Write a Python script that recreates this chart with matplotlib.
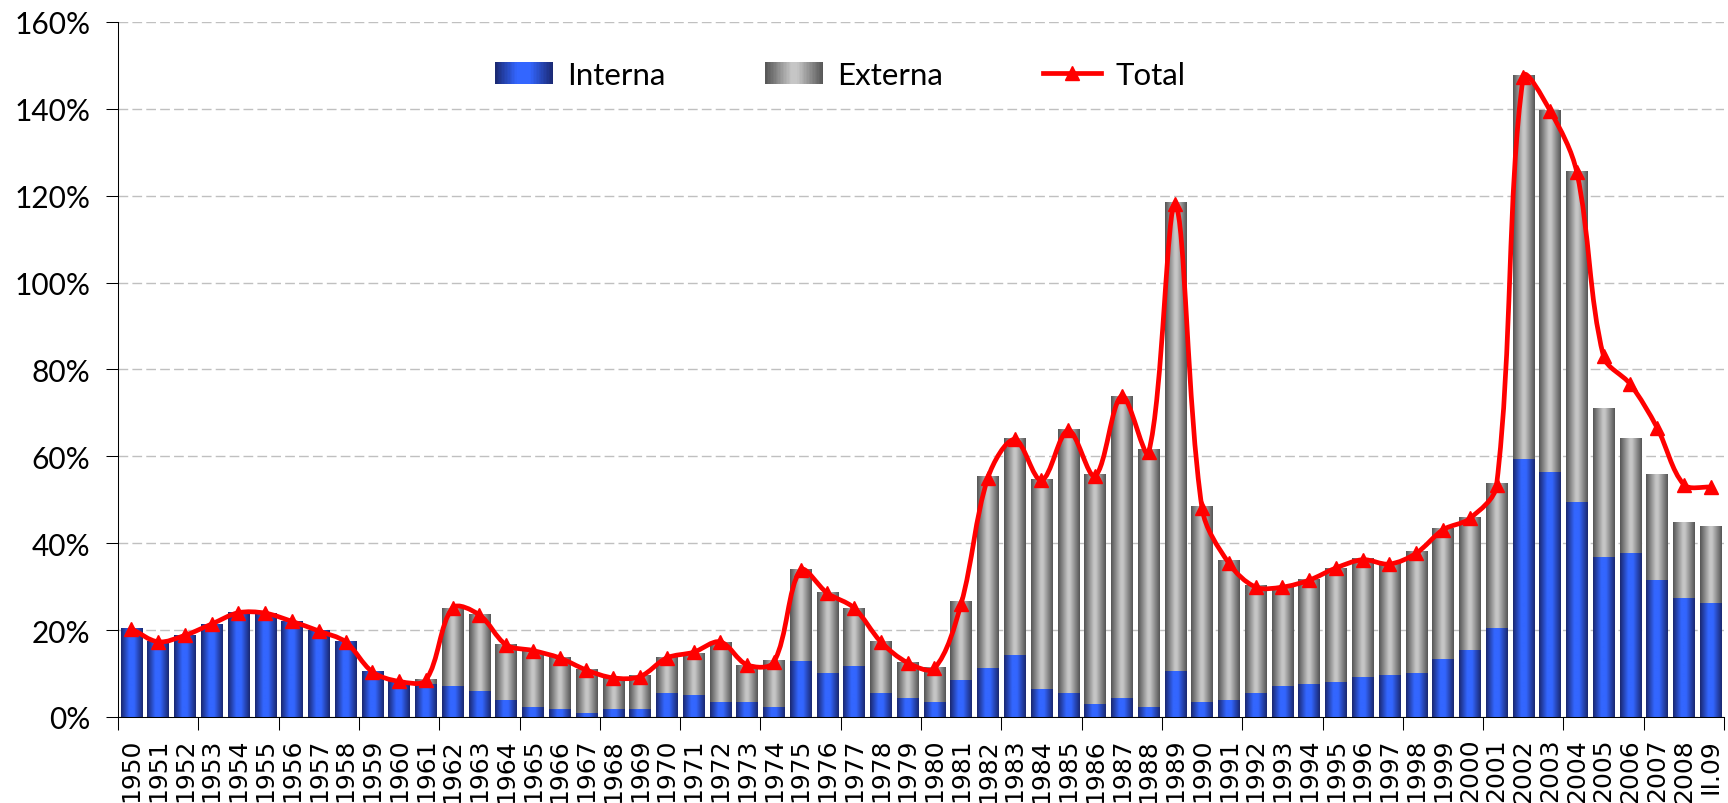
import numpy as np
import matplotlib
matplotlib.use("Agg")
import matplotlib.pyplot as plt
from matplotlib.colors import LinearSegmentedColormap
from matplotlib.path import Path
from matplotlib.patches import PathPatch, Rectangle
from matplotlib.lines import Line2D
from matplotlib.legend_handler import HandlerBase

labels = [str(y) for y in range(1950, 2009)] + ["II.09"]

interna = [20.3, 17.3, 18.8, 21.4, 24.0, 23.8, 22.0, 19.8, 17.3, 10.4,
           8.2, 7.7, 7.2, 6.0, 3.9, 2.3, 1.8, 0.9, 1.8, 1.8,
           5.5, 5.1, 3.5, 3.5, 2.3, 12.9, 10.1, 11.8, 5.5, 4.4,
           3.5, 8.5, 11.3, 14.3, 6.5, 5.5, 3.0, 4.4, 2.3, 10.6,
           3.5, 3.9, 5.5, 7.2, 7.6, 8.1, 9.2, 9.7, 10.1, 13.4,
           15.5, 20.5, 59.3, 56.5, 49.4, 36.9, 37.8, 31.6, 27.4, 26.3]

externa = [0, 0, 0, 0, 0, 0, 0, 0, 0, 0,
           0, 1.1, 17.9, 17.5, 12.7, 12.8, 11.8, 9.9, 7.1, 7.7,
           8.1, 9.6, 13.8, 8.5, 10.8, 21.0, 18.5, 13.3, 11.8, 8.1,
           8.0, 18.0, 44.0, 49.8, 48.2, 60.7, 52.8, 69.5, 59.3, 107.8,
           44.9, 32.1, 24.7, 22.8, 24.0, 26.2, 27.2, 25.7, 28.0, 30.0,
           30.4, 33.2, 88.3, 83.3, 76.2, 34.1, 26.3, 24.2, 17.3, 17.5]

total = [20.3, 17.3, 18.8, 21.4, 24.0, 23.9, 22.0, 19.8, 17.3, 10.4,
         8.2, 8.5, 25.1, 23.5, 16.6, 15.3, 13.6, 10.8, 9.0, 9.3,
         13.6, 14.9, 17.3, 12.0, 12.6, 33.8, 28.5, 25.1, 17.3, 12.5,
         11.2, 26.1, 55.1, 63.9, 54.5, 66.0, 55.5, 73.9, 60.9, 118.0,
         48.0, 35.4, 29.9, 29.9, 31.5, 34.3, 36.2, 35.2, 37.7, 43.1,
         45.7, 53.3, 147.4, 139.6, 125.4, 83.0, 76.6, 66.6, 53.5, 52.9]

blue_cm = LinearSegmentedColormap.from_list(
    "bl", [(0, "#1a2870"), (0.38, "#3366ff"), (0.6, "#3366ff"), (1, "#1a2870")])
gray_cm = LinearSegmentedColormap.from_list(
    "gr", [(0, "#555555"), (0.45, "#c6c6c6"), (0.55, "#c6c6c6"), (1, "#555555")])


class GradHandler(HandlerBase):
    def __init__(self, cmap):
        super().__init__()
        self.cmap = cmap

    def create_artists(self, legend, orig_handle, xdescent, ydescent,
                       width, height, fontsize, trans):
        n = 40
        w = width / n
        arts = []
        for i in range(n):
            r = Rectangle((-xdescent + i * w, -ydescent), w * 1.05, height,
                          facecolor=self.cmap((i + 0.5) / n), lw=0,
                          transform=trans)
            arts.append(r)
        return arts


fig = plt.figure(figsize=(17.28, 8.04), dpi=100)
ax = fig.add_axes([0.0683, 0.107, 0.9294, 0.8644])

x = np.arange(len(labels))
b1 = ax.bar(x, interna, width=0.8, color="none", lw=0)
b2 = ax.bar(x, externa, bottom=interna, width=0.8, color="none", lw=0)

grad = np.linspace(0, 1, 64).reshape(1, -1)
for bars, cm in ((b1, blue_cm), (b2, gray_cm)):
    for r in bars:
        if r.get_height() <= 0:
            continue
        ax.imshow(grad, cmap=cm, aspect="auto", interpolation="bilinear",
                  extent=(r.get_x(), r.get_x() + r.get_width(),
                          r.get_y(), r.get_y() + r.get_height()), zorder=2)

# smoothed line, excel style bezier (tangents weighted by segment length on screen)
pts = np.column_stack([x, total]).astype(float)
sy = 4.34 / 26.77  # px per % / px per category
n = len(pts)
outc, inc = [], []
for i in range(n):
    pa = pts[max(i - 1, 0)]
    pb = pts[min(i + 1, n - 1)]
    d = pb - pa
    lp = np.hypot(pts[i][0] - pa[0], (pts[i][1] - pa[1]) * sy)
    ln = np.hypot(pb[0] - pts[i][0], (pb[1] - pts[i][1]) * sy)
    s = lp + ln
    outc.append(pts[i] + d / 3 * ln / s)
    inc.append(pts[i] - d / 3 * lp / s)
verts = [pts[0]]
codes = [Path.MOVETO]
for i in range(n - 1):
    verts += [outc[i], inc[i + 1], pts[i + 1]]
    codes += [Path.CURVE4] * 3
ax.add_patch(PathPatch(Path(verts, codes), fill=False, edgecolor="red",
                       lw=3.4, capstyle="round", joinstyle="round", zorder=4))
ax.plot(x, total, ls="none", marker="^", color="red", ms=9.5, zorder=5)

ax.set_xlim(-0.5, 59.5)
ax.set_ylim(0, 160)

ax.set_yticks(range(0, 161, 20))
ax.set_yticklabels([f"{v}%" for v in range(0, 161, 20)], family="Lato", fontsize=21.5)
ax.tick_params(axis="y", length=9, width=0.75, pad=11)

ax.set_xticks(x)
ax.set_xticklabels(labels, rotation=90, family="DejaVu Sans", fontsize=18)
ax.tick_params(axis="x", which="major", length=0, pad=15)
ax.set_xticks(np.arange(-0.5, 60, 3), minor=True)
ax.tick_params(axis="x", which="minor", length=9, width=0.75)

ax.yaxis.grid(True, color="#c0c0c0", lw=1, dashes=(7, 3))
ax.set_axisbelow(True)
for s in ("top", "right"):
    ax.spines[s].set_visible(False)
for s in ("left", "bottom"):
    ax.spines[s].set_linewidth(0.75)
    ax.spines[s].set_zorder(6)

h1 = Rectangle((0, 0), 1, 1)
h2 = Rectangle((0, 0), 1, 1)
h3 = Line2D([], [], color="red", lw=3.4, marker="^", ms=9.5)
ax.legend([h1, h2, h3], ["Interna", "Externa", "Total"],
          handler_map={h1: GradHandler(blue_cm), h2: GradHandler(gray_cm)},
          loc="center", bbox_to_anchor=(0.4496, 0.924), ncol=3, frameon=False,
          prop={"family": "Lato", "size": 22.5}, handlelength=1.85,
          handletextpad=0.45, columnspacing=3.2)

fig.savefig("out.png", dpi=100)
